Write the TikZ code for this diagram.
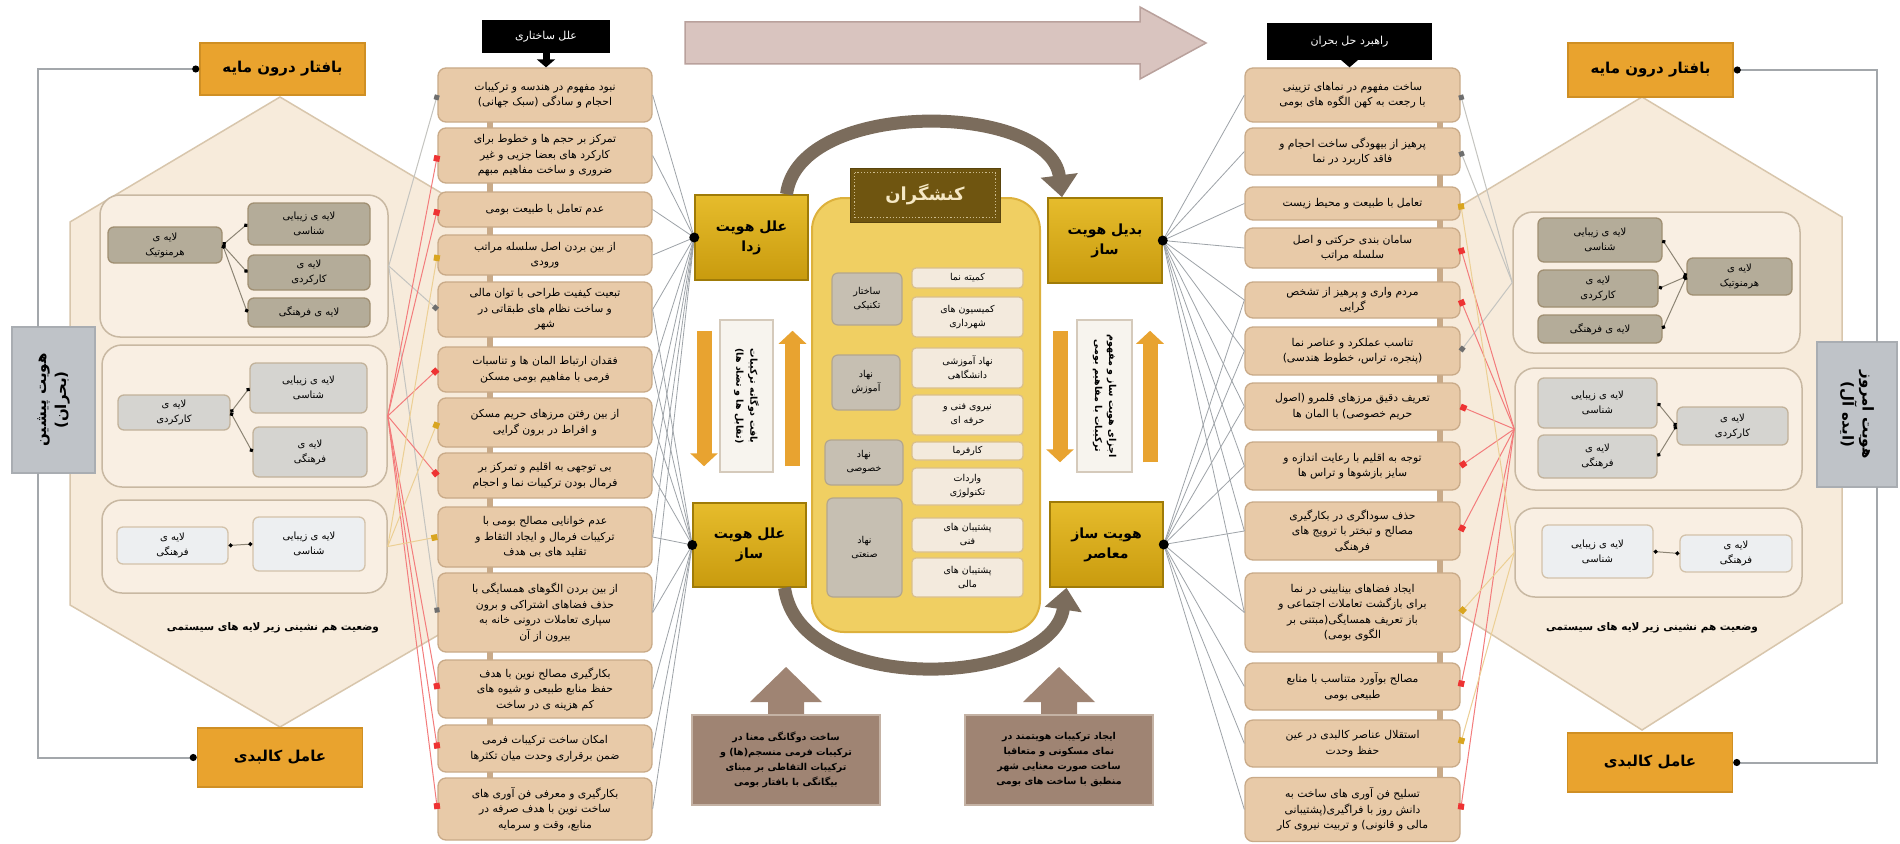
\documentclass[tikz,border=0pt]{standalone}
\usepackage{fontspec}
\setmainfont{DejaVu Sans}[Script=Arabic]
\TeXXeTstate=1
\usetikzlibrary{arrows.meta}
\newcommand{\fa}[1]{\beginR #1\endR}
\definecolor{lboxf}{HTML}{E8CAA8}
\definecolor{lboxd}{HTML}{C9AA88}
\definecolor{golda}{HTML}{E6BC2C}
\definecolor{goldb}{HTML}{C99B0E}
\definecolor{goldd}{HTML}{9F7B08}
\definecolor{orangef}{HTML}{E9A32E}
\definecolor{oranged}{HTML}{CF8F24}
\definecolor{hexf}{HTML}{F7EBDB}
\definecolor{hexd}{HTML}{D8C6AC}
\definecolor{grpf}{HTML}{F9EFE3}
\definecolor{grpd}{HTML}{C8B8A2}
\definecolor{layaf}{HTML}{B4AC99}
\definecolor{layad}{HTML}{A08F72}
\definecolor{laybf}{HTML}{D5D4D0}
\definecolor{laybd}{HTML}{C2B29A}
\definecolor{laycf}{HTML}{EDEFF1}
\definecolor{laycd}{HTML}{D3C2AA}
\definecolor{vboxf}{HTML}{BFC3C8}
\definecolor{vboxd}{HTML}{A9ADB2}
\definecolor{conng}{HTML}{A3A7AB}
\definecolor{icd}{HTML}{8C8474}
\definecolor{redline}{HTML}{F37C7C}
\definecolor{redmark}{HTML}{EE3333}
\definecolor{orline}{HTML}{ECCF94}
\definecolor{ormark}{HTML}{D9A520}
\definecolor{grline}{HTML}{C4C4C0}
\definecolor{grmark}{HTML}{6E6E6E}
\definecolor{glc}{HTML}{9EA3A8}
\definecolor{ccf}{HTML}{F0CF62}
\definecolor{ccd}{HTML}{DDB13C}
\definecolor{kf}{HTML}{6F5510}
\definecolor{kt}{HTML}{F5E8C5}
\definecolor{cgf}{HTML}{C6BFB2}
\definecolor{cgd}{HTML}{B3A68E}
\definecolor{cwf}{HTML}{F3EADD}
\definecolor{cwd}{HTML}{D9BF8C}
\definecolor{oarr}{HTML}{E8A330}
\definecolor{vtf}{HTML}{F7F4EE}
\definecolor{vtd}{HTML}{D5CABB}
\definecolor{brf}{HTML}{9F8473}
\definecolor{brd}{HTML}{C4B2A4}
\definecolor{arcc}{HTML}{7B6C5C}
\definecolor{bigarf}{HTML}{D9C4BF}
\definecolor{bigard}{HTML}{B9A19C}
\begin{document}
\begin{tikzpicture}[x=1pt,y=-1pt,
  lbox/.style={draw=lboxd, fill=lboxf, rounded corners=8pt, line width=1.3pt, align=center, inner sep=1pt, minimum width=214pt, font=\fontsize{10.8}{15.5}\selectfont},
  goldbox/.style={draw=goldd, top color=golda, bottom color=goldb, line width=1.5pt, align=center, minimum width=113pt, minimum height=85pt, font=\bfseries\fontsize{14}{20}\selectfont},
  obox/.style={draw=oranged, fill=orangef, line width=1.5pt, minimum width=165pt, font=\bfseries\fontsize{15}{18}\selectfont},
  grp/.style={draw=grpd, fill=grpf, rounded corners=20pt, line width=1.5pt},
  laya/.style={draw=layad, fill=layaf, rounded corners=6pt, line width=1.3pt, align=center, inner sep=1pt, font=\fontsize{10}{15}\selectfont},
  layb/.style={laya, draw=laybd, fill=laybf},
  layc/.style={laya, draw=laycd, fill=laycf},
  cgray/.style={draw=cgd, fill=cgf, rounded corners=6pt, line width=1.2pt, align=center, inner sep=1pt, font=\fontsize{9.5}{14}\selectfont},
  cwhite/.style={draw=cwd, fill=cwf, rounded corners=4pt, line width=1.2pt, align=center, inner sep=1pt, minimum width=111pt, font=\fontsize{9.5}{14}\selectfont},
  hdr/.style={fill=black, text=white, font=\fontsize{11}{13}\selectfont},
  vbox/.style={draw=vboxd, fill=vboxf, line width=1.5pt, align=center, font=\bfseries\fontsize{15}{20}\selectfont},
  vtext/.style={draw=vtd, fill=vtf, line width=2pt, align=center, font=\bfseries\fontsize{9.5}{14}\selectfont, minimum width=152pt},
  brbox/.style={draw=brd, fill=brf, line width=2pt, align=center, minimum width=188pt, minimum height=90pt, font=\bfseries\fontsize{9.5}{15}\selectfont},
  conn/.style={draw=conng, line width=2pt, -{Circle[length=7pt,color=black]}},
  ic/.style={draw=icd, line width=1pt, {Circle[length=4pt,color=black]}-{Circle[length=4pt,color=black]}},
  redl/.style={draw=redline, line width=1pt, {Square[length=6pt,width=6pt,color=redmark]}-},
  orl/.style={draw=orline, line width=1pt, {Square[length=6pt,width=6pt,color=ormark]}-},
  gryl/.style={draw=grline, line width=1pt, {Square[length=5pt,width=5pt,color=grmark]}-},
  gl/.style={draw=glc, line width=0.8pt},
  oarrow/.style={draw=oarr, line width=15pt, -{Triangle[width=27pt,length=13pt]}},
  arcarrow/.style={draw=arcc, line width=13pt, -{Triangle[width=36pt,length=22pt]}},
  capt/.style={font=\bfseries\fontsize{10.5}{13}\selectfont}
]
\useasboundingbox (0,0) rectangle (1900,843);
\fill[white] (0,0) rectangle (1900,843);

% top big arrow
\filldraw[fill=bigarf, draw=bigard, line width=1.5pt] (685,22) -- (1140,22) -- (1140,7) -- (1206,43) -- (1140,79) -- (1140,64) -- (685,64) -- cycle;

% hexagons
\filldraw[fill=hexf, draw=hexd, line width=1.5pt] (280,97) -- (490,222) -- (490,605) -- (280,727) -- (70,605) -- (70,222) -- cycle;
\filldraw[fill=hexf, draw=hexd, line width=1.5pt] (1642,97) -- (1842,217) -- (1842,603) -- (1642,730) -- (1442,603) -- (1442,217) -- cycle;

% groups left
\node[grp, minimum width=288pt, minimum height=142pt] (G1L) at (244,266) {};
\node[grp, minimum width=285pt, minimum height=142pt] (G2L) at (244.5,416) {};
\node[grp, minimum width=285pt, minimum height=93pt] (G3L) at (244.5,546.5) {};
% groups right
\node[grp, minimum width=287pt, minimum height=141pt] (G1R) at (1656.5,282.5) {};
\node[grp, minimum width=287pt, minimum height=122pt] (G2R) at (1658.5,429) {};
\node[grp, minimum width=287pt, minimum height=89pt] (G3R) at (1658.5,552.5) {};

% left layers
\node[laya, minimum width=114pt, minimum height=36pt] (HL) at (165,245) {\fa{لایه ی}\\\fa{هرمنوتیک}};
\node[laya, minimum width=122pt, minimum height=42pt] (A1L) at (309,224) {\fa{لایه ی زیبایی}\\\fa{شناسی}};
\node[laya, minimum width=122pt, minimum height=35pt] (F1L) at (309,272.5) {\fa{لایه ی}\\\fa{کارکردی}};
\node[laya, minimum width=122pt, minimum height=29pt] (C1L) at (309,312.5) {\fa{لایه ی فرهنگی}};
\node[layb, minimum width=112pt, minimum height=35pt] (F2L) at (174,412.5) {\fa{لایه ی}\\\fa{کارکردی}};
\node[layb, minimum width=117pt, minimum height=50pt] (A2L) at (308.5,388) {\fa{لایه ی زیبایی}\\\fa{شناسی}};
\node[layb, minimum width=114pt, minimum height=50pt] (C2L) at (310,452) {\fa{لایه ی}\\\fa{فرهنگی}};
\node[layc, minimum width=111pt, minimum height=37pt] (C3L) at (172.5,545.5) {\fa{لایه ی}\\\fa{فرهنگی}};
\node[layc, minimum width=112pt, minimum height=54pt] (A3L) at (309,544) {\fa{لایه ی زیبایی}\\\fa{شناسی}};
\draw[ic] (HL.east) -- (A1L.west);
\draw[ic] (HL.east) -- (F1L.west);
\draw[ic] (HL.east) -- (C1L.west);
\draw[ic] (F2L.east) -- (A2L.west);
\draw[ic] (F2L.east) -- (C2L.west);
\draw[ic] (C3L.east) -- (A3L.west);
\node[capt] (CAPL) at (273,628) {\fa{وضعیت هم نشینی زیر لایه های سیستمی}};

% right layers
\node[laya, minimum width=124pt, minimum height=44pt] (A1R) at (1600,240) {\fa{لایه ی زیبایی}\\\fa{شناسی}};
\node[laya, minimum width=120pt, minimum height=37pt] (F1R) at (1598,288.5) {\fa{لایه ی}\\\fa{کارکردی}};
\node[laya, minimum width=124pt, minimum height=28pt] (C1R) at (1600,329) {\fa{لایه ی فرهنگی}};
\node[laya, minimum width=105pt, minimum height=37pt] (HR) at (1739.5,276.5) {\fa{لایه ی}\\\fa{هرمنوتیک}};
\node[layb, minimum width=119pt, minimum height=50pt] (A2R) at (1597.5,403) {\fa{لایه ی زیبایی}\\\fa{شناسی}};
\node[layb, minimum width=119pt, minimum height=43pt] (C2R) at (1597.5,456.5) {\fa{لایه ی}\\\fa{فرهنگی}};
\node[layb, minimum width=111pt, minimum height=38pt] (F2R) at (1732.5,426) {\fa{لایه ی}\\\fa{کارکردی}};
\node[layc, minimum width=111pt, minimum height=53pt] (A3R) at (1597.5,551.5) {\fa{لایه ی زیبایی}\\\fa{شناسی}};
\node[layc, minimum width=112pt, minimum height=37pt] (C3R) at (1736,553.5) {\fa{لایه ی}\\\fa{فرهنگی}};
\draw[ic] (HR.west) -- (A1R.east);
\draw[ic] (HR.west) -- (F1R.east);
\draw[ic] (HR.west) -- (C1R.east);
\draw[ic] (F2R.west) -- (A2R.east);
\draw[ic] (F2R.west) -- (C2R.east);
\draw[ic] (C3R.west) -- (A3R.east);
\node[capt] (CAPR) at (1652,628) {\fa{وضعیت هم نشینی زیر لایه های سیستمی}};

% orange boxes
\node[obox, minimum height=52pt] (TL) at (282.5,69) {\fa{بافتار درون مایه}};
\node[obox, minimum height=59pt] (BL) at (280,757.5) {\fa{عامل کالبدی}};
\node[obox, minimum height=54pt] (TR) at (1650.5,70) {\fa{بافتار درون مایه}};
\node[obox, minimum height=59pt] (BR) at (1650,762.5) {\fa{عامل کالبدی}};

% vertical identity boxes
\node[vbox, rotate=90, minimum width=146pt, minimum height=83pt] (VL) at (53.5,400) {\fa{هویت پیشین}\\\fa{(بحران)}};
\node[vbox, rotate=-90, minimum width=145pt, minimum height=80pt] (VR) at (1857,414.5) {\fa{هویت امروز}\\\fa{(ایده آل)}};
\draw[conn] (38,327) |- (TL.west);
\draw[conn] (38,473) |- (BL.west);
\draw[conn] (1877,342) |- (TR.east);
\draw[conn] (1877,487) |- (BR.east);

% headers
\node[hdr, minimum width=128pt, minimum height=33pt] (H1) at (546,36.5) {\fa{علل ساختاری}};
\node[hdr, minimum width=165pt, minimum height=37pt] (H2) at (1349.5,41.5) {\fa{راهبرد حل بحران}};

% left list
\draw[draw=lboxd, line width=6pt] (490,95) -- (490,809);
\node[lbox, minimum height=54pt] (L1) at (545,95) {\fa{نبود مفهوم در هندسه و ترکیبات}\\\fa{احجام و سادگی (سبک جهانی)}};
\node[lbox, minimum height=55pt] (L2) at (545,155.5) {\fa{تمرکز بر حجم ها و خطوط برای}\\\fa{کارکرد های بعضا جزیی و غیر}\\\fa{ضروری و ساخت مفاهیم مبهم}};
\node[lbox, minimum height=35pt] (L3) at (545,209.5) {\fa{عدم تعامل با طبیعت بومی}};
\node[lbox, minimum height=40pt] (L4) at (545,255) {\fa{از بین بردن اصل سلسله مراتب}\\\fa{ورودی}};
\node[lbox, minimum height=55pt] (L5) at (545,309.5) {\fa{تبعیت کیفیت طراحی با توان مالی}\\\fa{و ساخت نظام های طبقاتی در}\\\fa{شهر}};
\node[lbox, minimum height=45pt] (L6) at (545,369.5) {\fa{فقدان ارتباط المان ها و تناسبات}\\\fa{فرمی با مفاهیم بومی مسکن}};
\node[lbox, minimum height=49pt] (L7) at (545,422.5) {\fa{از بین رفتن مرزهای حریم مسکن}\\\fa{و افراط در برون گرایی}};
\node[lbox, minimum height=45pt] (L8) at (545,475.5) {\fa{بی توجهی به اقلیم و تمرکز بر}\\\fa{فرمال بودن ترکیبات نما و احجام}};
\node[lbox, minimum height=60pt] (L9) at (545,537) {\fa{عدم خوانایی مصالح بومی با}\\\fa{ترکیبات فرمال و ایجاد التقاط و}\\\fa{تقلید های بی هدف}};
\node[lbox, minimum height=79pt] (L10) at (545,612.5) {\fa{از بین بردن الگوهای همسایگی با}\\\fa{حذف فضاهای اشتراکی و برون}\\\fa{سپاری تعاملات درونی خانه به}\\\fa{بیرون از آن}};
\node[lbox, minimum height=58pt] (L11) at (545,689) {\fa{بکارگیری مصالح نوین با هدف}\\\fa{حفظ منابع طبیعی و شیوه های}\\\fa{کم هزینه ی در ساخت}};
\node[lbox, minimum height=47pt] (L12) at (545,748.5) {\fa{امکان ساخت ترکیبات فرمی}\\\fa{ضمن برقراری وحدت میان تکثرها}};
\node[lbox, minimum height=62pt] (L13) at (545,809) {\fa{بکارگیری و معرفی فن آوری های}\\\fa{ساخت نوین با هدف صرفه در}\\\fa{منابع، وقت و سرمایه}};
\draw[black, line width=7pt, -{Triangle[width=18pt,length=8pt]}] (H1.south) -- (H1.south |- L1.north);

% right list
\draw[draw=lboxd, line width=6pt] (1440,95) -- (1440,809);
\node[lbox, minimum width=215pt, minimum height=54pt] (R1) at (1352.5,95) {\fa{ساخت مفهوم در نماهای تزیینی}\\\fa{با رجعت به کهن الگوه های بومی}};
\node[lbox, minimum width=215pt, minimum height=47pt] (R2) at (1352.5,151.5) {\fa{پرهیز از بیهودگی ساخت احجام و}\\\fa{فاقد کاربرد در نما}};
\node[lbox, minimum width=215pt, minimum height=33pt] (R3) at (1352.5,203.5) {\fa{تعامل با طبیعت  و محیط زیست}};
\node[lbox, minimum width=215pt, minimum height=40pt] (R4) at (1352.5,248) {\fa{سامان بندی حرکتی و اصل}\\\fa{سلسله مراتب}};
\node[lbox, minimum width=215pt, minimum height=36pt] (R5) at (1352.5,300) {\fa{مردم واری و پرهیز از تشخص}\\\fa{گرایی}};
\node[lbox, minimum width=215pt, minimum height=48pt] (R6) at (1352.5,351) {\fa{تناسب عملکرد و عناصر نما}\\\fa{(پنجره، تراس، خطوط هندسی)}};
\node[lbox, minimum width=215pt, minimum height=47pt] (R7) at (1352.5,406.5) {\fa{تعریف دقیق مرزهای قلمرو (اصول}\\\fa{حریم خصوصی) با المان ها}};
\node[lbox, minimum width=215pt, minimum height=48pt] (R8) at (1352.5,466) {\fa{توجه به اقلیم با رعایت اندازه و}\\\fa{سایز بازشوها و تراس ها}};
\node[lbox, minimum width=215pt, minimum height=58pt] (R9) at (1352.5,531) {\fa{حذف سوداگری در بکارگیری}\\\fa{مصالح و تبختر با ترویج های}\\\fa{فرهنگی}};
\node[lbox, minimum width=215pt, minimum height=79pt] (R10) at (1352.5,612.5) {\fa{ایجاد فضاهای بینابینی در نما}\\\fa{برای بازگشت تعاملات اجتماعی و}\\\fa{باز تعریف همسایگی(مبتنی بر}\\\fa{الگوی بومی)}};
\node[lbox, minimum width=215pt, minimum height=47pt] (R11) at (1352.5,686.5) {\fa{مصالح بوآورد متناسب با منابع}\\\fa{طبیعی بومی}};
\node[lbox, minimum width=215pt, minimum height=47pt] (R12) at (1352.5,743.5) {\fa{استقلال عناصر کالبدی در عین}\\\fa{حفظ وحدت}};
\node[lbox, minimum width=215pt, minimum height=64pt] (R13) at (1352.5,809.5) {\fa{تسلیح فن آوری های ساخت به}\\\fa{دانش روز با فراگیری(پشتیبانی}\\\fa{مالی و قانونی) و تربیت نیروی کار}};
\draw[black, line width=7pt, -{Triangle[width=18pt,length=8pt]}] (H2.south) -- (H2.south |- R1.north);

% list -> panel lines (left)
\foreach \i in {1,5,10} \draw[gryl] (L\i.west) -- (G1L.east);
\foreach \i in {2,3,6,8,11,12,13} \draw[redl] (L\i.west) -- (G2L.east);
\foreach \i in {4,7,9} \draw[orl] (L\i.west) -- (G3L.east);
% right
\foreach \i in {1,2,6} \draw[gryl] (R\i.east) -- (G1R.west);
\foreach \i in {4,5,7,8,9,11,13} \draw[redl] (R\i.east) -- (G2R.west);
\foreach \i in {3,10,12} \draw[orl] (R\i.east) -- (G3R.west);

% gold boxes
\node[goldbox] (GL1) at (751.5,237.5) {\fa{علل هویت}\\\fa{زدا}};
\node[goldbox, minimum height=84pt] (GL2) at (749.5,545) {\fa{علل هویت}\\\fa{ساز}};
\node[goldbox, minimum width=114pt] (GR1) at (1105,240.5) {\fa{بدیل هویت}\\\fa{ساز}};
\node[goldbox, minimum width=113pt] (GR2) at (1106.5,544.5) {\fa{هویت ساز}\\\fa{معاصر}};

% list -> gold lines
\foreach \i in {1,...,10} \draw[gl] (L\i.east) -- (GL1.west);
\foreach \i in {5,...,13} \draw[gl] (L\i.east) -- (GL2.west);
\foreach \i in {1,...,10} \draw[gl] (R\i.west) -- (GR1.east);
\foreach \i in {5,...,13} \draw[gl] (R\i.west) -- (GR2.east);
\fill[black] (GL1.west) circle[radius=5pt];
\fill[black] (GL2.west) circle[radius=5pt];
\fill[black] (GR1.east) circle[radius=5pt];
\fill[black] (GR2.east) circle[radius=5pt];

% arcs
\draw[arcarrow] ([xshift=35pt]GL1.north) .. controls +(13,-97) and +(-12,-95) .. ([xshift=-43pt]GR1.north);
\draw[arcarrow] ([xshift=35pt]GL2.south) .. controls +(15,110) and +(-15,100) .. ([xshift=-40pt]GR2.south);

% center
\node[draw=ccd, fill=ccf, rounded corners=32pt, line width=2pt, minimum width=228pt, minimum height=434pt] (CC) at (926,415) {};
\node[fill=kf, draw=kf!80!black, line width=1pt, minimum width=150pt, minimum height=54pt, text=kt, font=\bfseries\fontsize{18}{20}\selectfont] (K) at (925,195) {\fa{کنشگران}};
\draw[dotted, draw=kt!70!kf, line width=1.2pt] ([xshift=5pt,yshift=-5pt]K.north west) rectangle ([xshift=-5pt,yshift=5pt]K.south east);
\node[cgray, minimum width=70pt, minimum height=52pt] (CG1) at (867,299) {\fa{ساختار}\\\fa{تکنیکی}};
\node[cgray, minimum width=68pt, minimum height=55pt] (CG2) at (866,382.5) {\fa{نهاد}\\\fa{آموزش}};
\node[cgray, minimum width=78pt, minimum height=45pt] (CG3) at (864,462.5) {\fa{نهاد}\\\fa{خصوصی}};
\node[cgray, minimum width=75pt, minimum height=99pt] (CG4) at (864.5,547.5) {\fa{نهاد}\\\fa{صنعتی}};
\node[cwhite, minimum height=20pt] (CW1) at (967.5,278) {\fa{کمیته نما}};
\node[cwhite, minimum height=40pt] (CW2) at (967.5,317) {\fa{کمیسیون های}\\\fa{شهرداری}};
\node[cwhite, minimum height=40pt] (CW3) at (967.5,368) {\fa{نهاد آموزشی}\\\fa{دانشگاهی}};
\node[cwhite, minimum height=40pt] (CW4) at (967.5,415) {\fa{نیروی فنی و}\\\fa{حرفه ای}};
\node[cwhite, minimum height=18pt] (CW5) at (967.5,451) {\fa{کارفرما}};
\node[cwhite, minimum height=37pt] (CW6) at (967.5,486.5) {\fa{واردات}\\\fa{تکنولوژی}};
\node[cwhite, minimum height=34pt] (CW7) at (967.5,535) {\fa{پشتیبان های}\\\fa{فنی}};
\node[cwhite, minimum height=39pt] (CW8) at (967.5,577.5) {\fa{پشتیبان های}\\\fa{مالی}};

% vertical text boxes and orange arrows
\node[vtext, rotate=-90, minimum height=53pt] (VT1) at (746.5,396) {\fa{بافت دوگانه ترکیبات}\\\fa{(تقابل ها و تضاد ها)}};
\node[vtext, rotate=-90, minimum height=55pt] (VT2) at (1104.5,396) {\fa{اجزای هویت ساز و مفهوم}\\\fa{ترکیبات با مفاهیم بومی}};
\draw[oarrow, shorten <=50pt, shorten >=36pt] ([xshift=-47.5pt]GL1.south) -- ([xshift=-45.5pt]GL2.north);
\draw[oarrow, shorten <=36pt, shorten >=50pt] ([xshift=43pt]GL2.north) -- ([xshift=41pt]GL1.south);
\draw[oarrow, shorten <=47pt, shorten >=39pt] ([xshift=-45pt]GR1.south) -- ([xshift=-46.5pt]GR2.north);
\draw[oarrow, shorten <=39pt, shorten >=47pt] ([xshift=43.5pt]GR2.north) -- ([xshift=45pt]GR1.south);

% bottom brown boxes
\fill[brf] (768,717) -- (768,702) -- (750,702) -- (786,667) -- (822,702) -- (804,702) -- (804,717) -- cycle;
\fill[brf] (1041,717) -- (1041,702) -- (1023,702) -- (1059,667) -- (1095,702) -- (1077,702) -- (1077,717) -- cycle;
\node[brbox] (BB1) at (786,760) {\fa{ساخت دوگانگی معنا در}\\\fa{ترکیبات فرمی منسجم(ها) و}\\\fa{ترکیبات التقاطی بر مبنای}\\\fa{بیگانگی با بافتار بومی}};
\node[brbox] (BB2) at (1059,760) {\fa{ایجاد ترکیبات هویتمند در}\\\fa{نمای مسکونی و متعاقبا}\\\fa{ساخت صورت معنایی شهر}\\\fa{منطبق با ساخت های بومی}};
\end{tikzpicture}
\end{document}
